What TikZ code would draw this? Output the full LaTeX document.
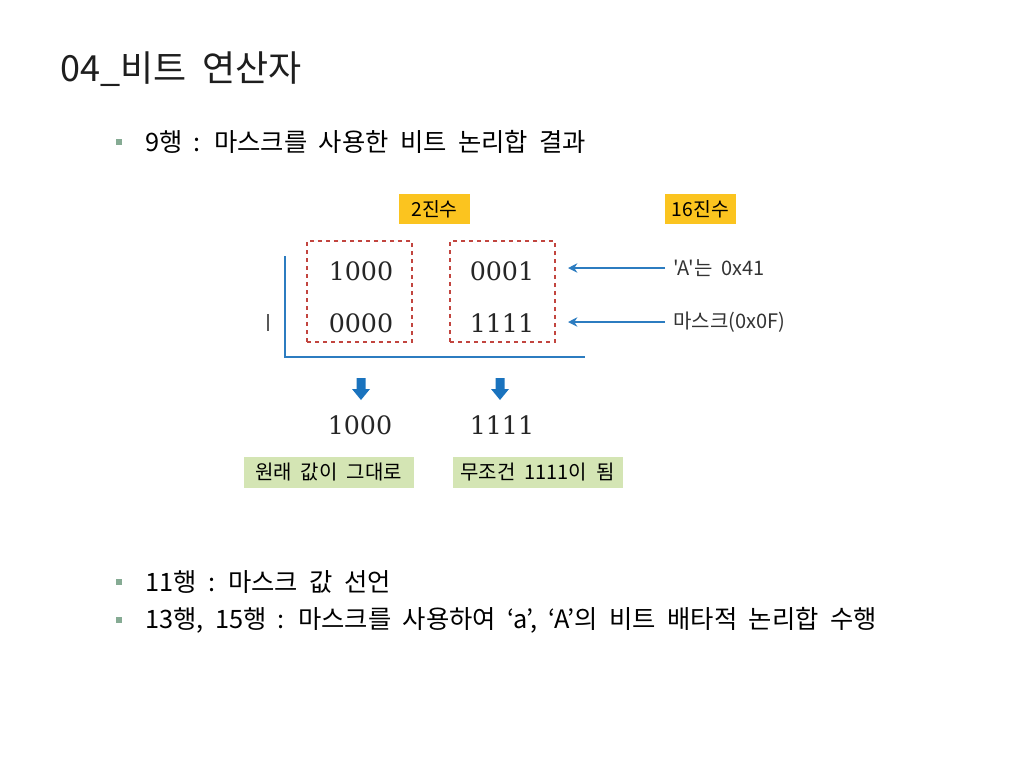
\documentclass[tikz,border=0pt]{standalone}
\usepackage{fontspec}
\newfontfamily\kr[WordSpace=2]{Noto Sans CJK KR}
\newfontfamily\numf{DejaVu Serif}
\usetikzlibrary{arrows.meta}
\definecolor{titlec}{HTML}{1E1E1E}
\definecolor{bulletc}{HTML}{86AB94}
\definecolor{yel}{HTML}{FBC41F}
\definecolor{grn}{HTML}{D4E5B4}
\definecolor{dred}{HTML}{C2453F}
\definecolor{blu}{HTML}{2C7CC0}
\definecolor{blk}{HTML}{1A73BE}
\definecolor{lbl}{HTML}{333333}
\tikzset{
  bul/.style={anchor=west,inner sep=0pt,font=\kr\fontsize{19pt}{22pt}\selectfont,text=black},
  bsq/.style={fill=bulletc,draw=none,minimum size=4.5pt,inner sep=0pt},
  yelbox/.style={fill=yel,minimum width=53.25pt,minimum height=22.5pt,inner sep=0pt,font=\kr\fontsize{14.5pt}{16pt}\selectfont},
  grnbox/.style={fill=grn,minimum width=127.5pt,minimum height=23.25pt,inner sep=0pt,font=\kr\fontsize{15pt}{17pt}\selectfont},
  dbox/.style={draw=dred,dashed,line width=1pt,minimum width=78.75pt,minimum height=75.75pt,inner sep=0pt},
  num/.style={inner sep=0pt,text=black!85,font=\numf\fontsize{19pt}{22pt}\selectfont},
  lab/.style={anchor=west,inner sep=0pt,text=lbl,font=\kr\fontsize{15pt}{17pt}\selectfont},
  harrow/.style={draw=blu,line width=1.5pt,-{Stealth[length=7pt,width=7pt]}},
  blueline/.style={draw=blu,line width=1.5pt},
  darrow/.style={fill=blk,draw=none}
}
\begin{document}
\begin{tikzpicture}[x=0.75pt,y=-0.75pt]
\useasboundingbox (0,0) rectangle (1024,768);
% title
\node[anchor=west,inner sep=0pt,text=titlec,font=\kr\fontsize{27pt}{30pt}\selectfont] (title) at (60,69) {04\_비트 연산자};
% bullets
\node[bsq] (b1) at (118.5,142) {};
\node[bul] (t1) at (145,142) {9행 : 마스크를 사용한 비트 논리합 결과};
\node[bsq] (b2) at (118.5,582) {};
\node[bul] (t2) at (145,582) {11행 : 마스크 값 선언};
\node[bsq] (b3) at (118.5,620) {};
\node[bul] (t3) at (145,620) {13행, 15행 : 마스크를 사용하여 ‘a’, ‘A’의 비트 배타적 논리합 수행};
% headers
\node[yelbox] (h2) at (434.5,209) {2진수};
\node[yelbox] (h16) at (700.5,209) {16진수};
% dashed boxes
\node[dbox] (d1) at (359.5,291.5) {};
\node[dbox] (d2) at (502.5,291.5) {};
% numbers
\node[num] (n11) at (361,271) {1000};
\node[num] (n12) at (502,271) {0001};
\node[num] (n21) at (361,323) {0000};
\node[num] (n22) at (502,323) {1111};
% L-shaped line
\coordinate (ltop) at (285,256);
\coordinate (lcorner) at (285,357);
\coordinate (lend) at (585,357);
\draw[blueline] (ltop) -- (lcorner) -- (lend);
% small gray bar
\coordinate (gb1) at (268,314);
\coordinate (gb2) at (268,331);
\draw[gray!70!black,line width=0.8pt] (gb1) -- (gb2);
% labels and arrows
\node[lab] (la) at (673,268) {'A'는 0x41};
\node[lab] (lm) at (673,322) {마스크(0x0F)};
\coordinate (ea) at (568,268);
\coordinate (em) at (568,322);
\draw[harrow] ([xshift=-6pt]la.west) -- (ea);
\draw[harrow] ([xshift=-6pt]lm.west) -- (em);
% down arrows
\foreach \c/\nm in {361/da1,500/da2}{
  \fill[darrow] (\c-4.5,378) -- (\c+4.5,378) -- (\c+4.5,389) -- (\c+9,389) -- (\c,400) -- (\c-9,389) -- (\c-4.5,389) -- cycle;
}
% results
\node[num] (r1) at (360,425) {1000};
\node[num] (r2) at (502,425) {1111};
\node[grnbox] (g1) at (328.5,472.5) {원래 값이 그대로};
\node[grnbox] (g2) at (537.5,472.5) {무조건 1111이 됨};
\end{tikzpicture}
\end{document}
